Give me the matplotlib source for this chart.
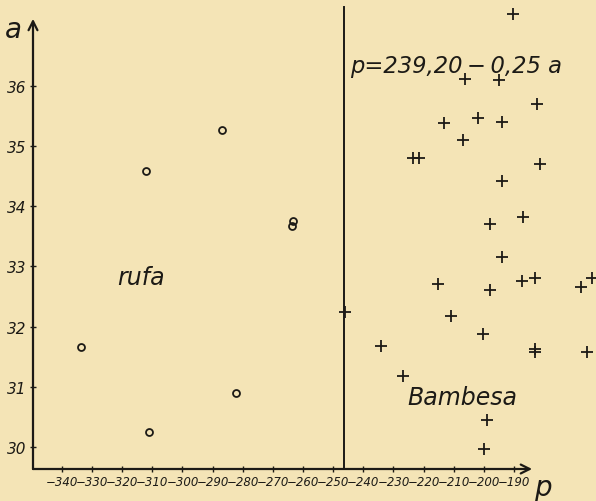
import numpy as np
import matplotlib
matplotlib.use("Agg")
import matplotlib.pyplot as plt

# rufa (open circles)
rufa_p = [-287.0, -312.2, -263.8, -263.2, -333.8, -282.4, -311.0]
rufa_a = [35.27, 34.58, 33.68, 33.76, 31.66, 30.89, 30.25]

# Bambesa (crosses)
bamb_p = [-190.4, -206.3, -195.0, -182.5, -213.1, -202.0, -194.1, -207.0,
          -223.6, -221.4, -181.4, -194.1, -187.1, -197.9, -194.1, -215.1,
          -197.9, -187.2, -183.0, -167.9, -164.2, -246.1, -211.0, -200.2,
          -234.2, -183.0, -183.0, -165.9, -226.9, -199.1, -199.9]
bamb_a = [37.20, 36.12, 36.10, 35.71, 35.39, 35.47, 35.40, 35.10,
          34.81, 34.81, 34.71, 34.43, 33.82, 33.71, 33.16, 32.70,
          32.60, 32.75, 32.80, 32.66, 32.81, 32.24, 32.18, 31.87,
          31.68, 31.63, 31.58, 31.58, 31.17, 30.44, 29.96]

x_ticks = list(range(-340, -189, 10))
y_ticks = [30, 31, 32, 33, 34, 35, 36]
split_p = -246.5

bg = "#f4e4b6"
ink = "#1c1a16"

fig = plt.figure(figsize=(5.96, 5.02), dpi=100, facecolor=bg)
W, H = 596, 502
ax = fig.add_axes([33 / W, (H - 470) / H, 1 - 33 / W, 470 / H])
ax.set_facecolor(bg)
ax.set_xlim(-349.6, -162.8)
ax.set_ylim(29.63, 37.45)
for s in ax.spines.values():
    s.set_visible(False)

x0, y0 = -349.6, 29.63
ax.annotate("", xy=(-184, y0), xytext=(x0, y0),
            arrowprops=dict(arrowstyle="->", lw=1.6, color=ink,
                            mutation_scale=16, shrinkA=0, shrinkB=0),
            annotation_clip=False)
ax.annotate("", xy=(x0, 37.12), xytext=(x0, y0),
            arrowprops=dict(arrowstyle="->", lw=1.6, color=ink,
                            mutation_scale=16, shrinkA=0, shrinkB=0),
            annotation_clip=False)

ax.plot([split_p, split_p], [y0, 37.32], color=ink, lw=1.4)

ax.plot(rufa_p, rufa_a, "o", ms=5, mfc="none", mec=ink, mew=1.3, clip_on=False)
ax.plot(bamb_p, bamb_a, "+", ms=9, mec=ink, mew=1.3, clip_on=False)

tick_font = dict(family=["Liberation Sans Narrow", "DejaVu Sans"], style="italic")
ax.set_xticks(x_ticks)
ax.set_xticklabels(["\u2212%d" % abs(v) for v in x_ticks], fontsize=8.5, **tick_font)
ax.set_yticks(y_ticks)
ax.set_yticklabels([str(v) for v in y_ticks], fontsize=11, **tick_font)
ax.tick_params(direction="inout", length=5, width=1.0, color=ink,
               labelcolor=ink, pad=2)

lab_font = dict(family="DejaVu Sans", style="italic", color=ink)
ax.text(-356, 36.95, "a", fontsize=20, ha="center", va="center",
        clip_on=False, **lab_font)
ax.text(-180.5, 29.33, "p", fontsize=20, ha="center", va="center",
        clip_on=False, **lab_font)
ax.text(-321.7, 32.83, "rufa", fontsize=17, ha="left", va="center", **lab_font)
ax.text(-225.5, 30.83, "Bambesa", fontsize=17, ha="left", va="center", **lab_font)
ax.text(-244.4, 36.34, "p=239,20\u2009\u2212\u20090,25 a", fontsize=16.3,
        ha="left", va="center", **lab_font)

fig.savefig("out.png", dpi=100, facecolor=bg)
